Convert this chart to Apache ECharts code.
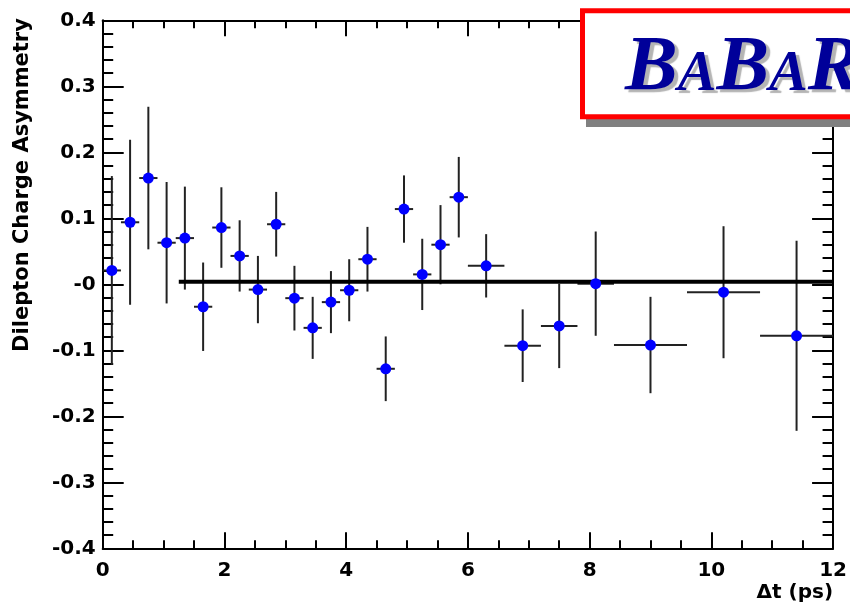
<!DOCTYPE html>
<html>
<head>
<meta charset="utf-8">
<script src="https://cdn.jsdelivr.net/npm/echarts@6/dist/echarts.min.js"></script>
<style>
html,body{margin:0;padding:0;background:#fff;}
#chart{width:850px;height:605px;}
</style>
</head>
<body>
<div id="chart"></div>
<script>
// ---- data ----
var binCenters = [0.15,0.45,0.75,1.05,1.35,1.65,1.95,2.25,2.55,2.85,3.15,3.45,3.75,4.05,4.35,4.65,4.95,5.25,5.55,5.85,6.3,6.9,7.5,8.1,9.0,10.2,11.4];
var binHalfWidths = [0.15,0.15,0.15,0.15,0.15,0.15,0.15,0.15,0.15,0.15,0.15,0.15,0.15,0.15,0.15,0.15,0.15,0.15,0.15,0.15,0.3,0.3,0.3,0.3,0.6,0.6,0.6];
var asymmetry = [0.021,0.094,0.161,0.063,0.070,-0.034,0.086,0.043,-0.008,0.091,-0.021,-0.066,-0.027,-0.009,0.038,-0.128,0.114,0.015,0.060,0.132,0.028,-0.093,-0.063,0.001,-0.092,-0.012,-0.078];
var asymmetryErr = [0.143,0.125,0.108,0.092,0.078,0.067,0.061,0.054,0.051,0.049,0.049,0.047,0.047,0.047,0.049,0.049,0.051,0.054,0.060,0.061,0.048,0.055,0.064,0.079,0.073,0.100,0.144];
var fitRange = [1.25, 12];
var fitValue = 0.004;
var xTickLabels = ['0','2','4','6','8','10','12'];
var yTickLabels = ['-0.4','-0.3','-0.2','-0.1','-0','0.1','0.2','0.3','0.4'];
var xTitle = '\u0394t (ps)';
var yTitle = 'Dilepton Charge Asymmetry';

var errData = binCenters.map(function(x,i){ return [x, asymmetry[i], binHalfWidths[i], asymmetryErr[i]]; });
var pts = binCenters.map(function(x,i){ return [x, asymmetry[i]]; });
var fitData = [[fitRange[0], fitValue],[fitRange[1], fitValue]];

var FONT = 'DejaVu Sans';
function xLab(v){ var i = Math.round(v/2); return xTickLabels[i] !== undefined ? xTickLabels[i] : ''; }
function yLab(v){ var i = Math.round((v+0.4)/0.1); return yTickLabels[i] !== undefined ? yTickLabels[i] : ''; }

function xAxisCfg(pos, showLabels){
  return {
    type:'value', position:pos, min:0, max:12, interval:2,
    axisLine:{show:true, onZero:false, lineStyle:{color:'#000', width:2}},
    axisTick:{show:true, inside:true, length:16, lineStyle:{color:'#000', width:2}},
    minorTick:{show:true, splitNumber:4, length:8, lineStyle:{color:'#000', width:2}},
    splitLine:{show:false}, minorSplitLine:{show:false},
    axisLabel:{show:showLabels, margin:12, color:'#000', fontFamily:FONT, fontWeight:'bold', fontSize:20, formatter:xLab},
    name: showLabels ? xTitle : '',
    nameLocation:'end', nameGap:0,
    nameTextStyle:{color:'#000', fontFamily:FONT, fontWeight:'bold', fontSize:20, align:'right', verticalAlign:'top', padding:[34,0,0,0]}
  };
}
function yAxisCfg(pos, showLabels){
  return {
    type:'value', position:pos, min:-0.4, max:0.4, interval:0.1,
    axisLine:{show:true, onZero:false, lineStyle:{color:'#000', width:2}},
    axisTick:{show:true, inside:true, length:21, lineStyle:{color:'#000', width:2}},
    minorTick:{show:true, splitNumber:5, length:10.5, lineStyle:{color:'#000', width:2}},
    splitLine:{show:false}, minorSplitLine:{show:false},
    axisLabel:{show:showLabels, margin:7, color:'#000', fontFamily:FONT, fontWeight:'bold', fontSize:20, formatter:yLab}
  };
}

var chart = echarts.init(document.getElementById('chart'), null, {renderer:'canvas'});
chart.setOption({
  animation:false,
  backgroundColor:'#fff',
  grid:{left:102.7, right:13.3, top:20.3, bottom:56.7, containLabel:false},
  xAxis:[xAxisCfg('bottom', true), xAxisCfg('top', false)],
  yAxis:[yAxisCfg('left', true), yAxisCfg('right', false)],
  series:[
    {
      type:'custom', xAxisIndex:0, yAxisIndex:0, z:2,
      data: errData,
      renderItem:function(params, api){
        var x=api.value(0), y=api.value(1), ex=api.value(2), ey=api.value(3);
        var t=api.coord([x,y+ey]), b=api.coord([x,y-ey]);
        var l=api.coord([x-ex,y]), r=api.coord([x+ex,y]);
        return {type:'group', children:[
          {type:'line', shape:{x1:t[0],y1:t[1],x2:b[0],y2:b[1]}, style:{stroke:'#222',lineWidth:2}},
          {type:'line', shape:{x1:l[0],y1:l[1],x2:r[0],y2:r[1]}, style:{stroke:'#222',lineWidth:2}}
        ]};
      }
    },
    {
      type:'line', xAxisIndex:0, yAxisIndex:0, z:3,
      data: fitData, showSymbol:false, symbol:'none',
      lineStyle:{color:'#000', width:4}
    },
    {
      type:'scatter', xAxisIndex:0, yAxisIndex:0, z:4,
      data: pts, symbol:'circle', symbolSize:11,
      itemStyle:{color:'#0000ff', opacity:1}
    }
  ],
  graphic:[
    {type:'text', x:23, y:185, rotation:Math.PI/2, z:10,
     style:{text:yTitle, fill:'#000', font:'bold 21px "DejaVu Sans"', textAlign:'center', textVerticalAlign:'middle'}},
    {type:'rect', z:20, shape:{x:586, y:14, width:300, height:113}, style:{fill:'#808080'}},
    {type:'rect', z:21, shape:{x:582.5, y:10.8, width:300, height:106}, style:{fill:'#fff', stroke:'#ff0000', lineWidth:5}},
    {type:'text', z:22, x:625, y:108,
     style:{
       text:'{b|B}{a|A}{b|B}{a|A}{b|R}',
       fill:'#000099',
       textVerticalAlign:'bottom', textAlign:'left',
       rich:{
         b:{fontFamily:'Liberation Serif', fontStyle:'italic', fontWeight:'bold', fontSize:79, fill:'#000099', verticalAlign:'bottom', lineHeight:90, textShadowColor:'#b4b4b4', textShadowOffsetX:4, textShadowOffsetY:3, textShadowBlur:1},
         a:{fontFamily:'Liberation Serif', fontStyle:'italic', fontWeight:'bold', fontSize:58, fill:'#000099', verticalAlign:'bottom', lineHeight:90, padding:[0,0,4,0], textShadowColor:'#b4b4b4', textShadowOffsetX:4, textShadowOffsetY:3, textShadowBlur:1}
       }
     }}
  ]
});
</script>
</body>
</html>
